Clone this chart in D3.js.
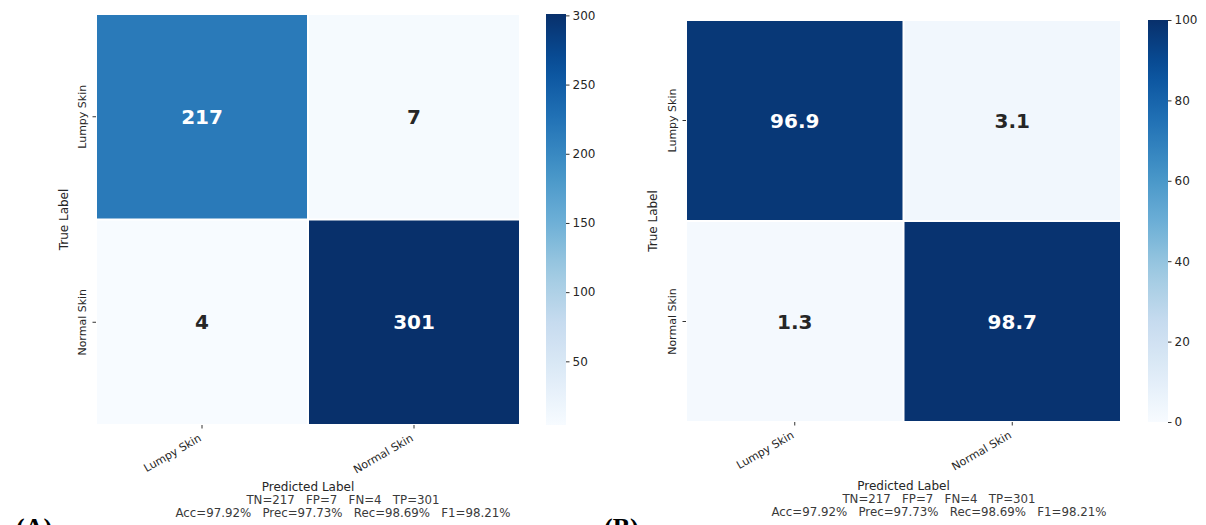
<!DOCTYPE html>
<html><head><meta charset="utf-8">
<script src="https://cdn.jsdelivr.net/npm/d3@7"></script>
<style>
body{margin:0;background:#fff;}
svg{display:block;font-family:"DejaVu Sans",sans-serif;}
</style></head>
<body><svg id="c" width="1206" height="525"></svg>
<script>
const categories = ["Lumpy Skin", "Normal Skin"];
const countsA = [[217, 7], [4, 301]];
const percentB = [[96.9, 3.1], [1.3, 98.7]];
const ticksA = [50, 100, 150, 200, 250, 300];
const ticksB = [0, 20, 40, 60, 80, 100];
const domainA = [4, 301];
const domainB = [0, 100];
const metricsLine1 = "TN=217   FP=7   FN=4   TP=301";
const metricsLine2 = "Acc=97.92%   Prec=97.73%   Rec=98.69%   F1=98.21%";
const panelLabels = ["(A)", "(B)"];

const bluesStops = ["#f7fbff","#deebf7","#c6dbef","#9ecae1","#6baed6","#4292c6","#2171b5","#08519c","#08306b"];
const blues = d3.scaleLinear().domain(d3.range(9).map(i => i / 8)).range(bluesStops).interpolate(d3.interpolateRgb).clamp(true);

const svg = d3.select("#c");
const defs = svg.append("defs");
const txt = "#262626";

function panel(cfg) {
  const g = svg.append("g");
  const x = d3.scaleBand().domain(categories).range([cfg.x0, cfg.x1]);
  const y = d3.scaleBand().domain(categories).range([cfg.y0, cfg.y1]);
  const norm = d3.scaleLinear().domain(cfg.domain).range([0, 1]);
  const cells = [];
  cfg.data.forEach((row, i) => row.forEach((v, j) => cells.push({r: categories[i], c: categories[j], v})));
  g.selectAll("rect.cell").data(cells).enter().append("rect")
    .attr("x", d => x(d.c) + 1).attr("y", d => y(d.r) + 1)
    .attr("width", x.bandwidth() - 2).attr("height", y.bandwidth() - 2)
    .attr("fill", d => blues(norm(d.v)));
  g.selectAll("text.val").data(cells).enter().append("text")
    .attr("x", d => x(d.c) + x.bandwidth() / 2).attr("y", d => y(d.r) + y.bandwidth() / 2)
    .attr("dy", "0.36em").attr("text-anchor", "middle")
    .attr("font-size", 20).attr("font-weight", "bold")
    .attr("fill", d => norm(d.v) > 0.5 ? "#ffffff" : txt)
    .text(d => cfg.fmt(d.v));

  // y axis
  const ya = g.append("g").attr("transform", `translate(${cfg.x0},0)`)
    .call(d3.axisLeft(y).tickSize(3.5).tickPadding(3));
  ya.select(".domain").remove();
  ya.selectAll("line").attr("stroke", "#333");
  ya.selectAll("text").attr("font-size", 11).attr("fill", txt).attr("font-family", "DejaVu Sans")
    .attr("text-anchor", "middle").attr("x", null).attr("y", 0).attr("dy", "0em")
    .attr("transform", "translate(-10,0) rotate(-90)");
  // x axis
  const xa = g.append("g").attr("transform", `translate(0,${cfg.y1})`)
    .call(d3.axisBottom(x).tickSize(3.5).tickPadding(3));
  xa.select(".domain").remove();
  xa.selectAll("line").attr("stroke", "#333");
  xa.selectAll("text").attr("font-size", 11).attr("fill", txt).attr("font-family", "DejaVu Sans")
    .attr("text-anchor", "end").attr("y", 0).attr("dy", "0.35em")
    .attr("transform", "translate(-2,12) rotate(-30)");

  // axis labels
  g.append("text").attr("transform", `translate(${cfg.ylabX},${(cfg.y0 + cfg.y1) / 2}) rotate(-90)`)
    .attr("text-anchor", "middle").attr("font-size", 12).attr("fill", txt).text("True Label");
  const cx = (cfg.x0 + cfg.x1) / 2;
  g.append("text").attr("x", cx).attr("y", cfg.labY).attr("text-anchor", "middle")
    .attr("font-size", 12).attr("fill", txt).text("Predicted Label");
  g.append("text").attr("x", cfg.mX).attr("y", cfg.labY + 13).attr("text-anchor", "middle")
    .attr("font-size", 11.8).attr("fill", "#3a3a3a").style("white-space", "pre").text(metricsLine1);
  g.append("text").attr("x", cfg.mX).attr("y", cfg.labY + 26).attr("text-anchor", "middle")
    .attr("font-size", 11.8).attr("fill", "#3a3a3a").style("white-space", "pre").text(metricsLine2);

  // colorbar
  const gid = "grad" + cfg.id;
  const grad = defs.append("linearGradient").attr("id", gid).attr("x1", 0).attr("x2", 0).attr("y1", 1).attr("y2", 0);
  d3.range(0, 1.0001, 0.05).forEach(t => grad.append("stop").attr("offset", t).attr("stop-color", blues(t)));
  g.append("rect").attr("x", cfg.cbX).attr("y", cfg.y0).attr("width", 20).attr("height", cfg.y1 - cfg.y0)
    .attr("fill", `url(#${gid})`);
  const cs = d3.scaleLinear().domain(cfg.domain).range([cfg.y1, cfg.y0]);
  const ca = g.append("g").attr("transform", `translate(${cfg.cbX + 20},0)`)
    .call(d3.axisRight(cs).tickValues(cfg.ticks).tickSize(3.5).tickPadding(3));
  ca.select(".domain").remove();
  ca.selectAll("line").attr("stroke", "#333");
  ca.selectAll("text").attr("font-size", 12).attr("fill", txt).attr("font-family", "DejaVu Sans");

  svg.append("text").attr("x", cfg.plX).attr("y", 536).attr("font-family", "Liberation Serif")
    .attr("font-weight", "bold").attr("font-size", 26).attr("fill", "#000").text(cfg.pl);
}

panel({id: "A", data: countsA, domain: domainA, ticks: ticksA, fmt: d => d3.format("d")(d),
  x0: 96, x1: 520, y0: 14, y1: 425, ylabX: 68, labY: 491, mX: 343, cbX: 546, plX: 16, pl: panelLabels[0]});
panel({id: "B", data: percentB, domain: domainB, ticks: ticksB, fmt: d => d3.format(".1f")(d),
  x0: 686, x1: 1121, y0: 20, y1: 422, ylabX: 657, labY: 490, mX: 939, cbX: 1148, plX: 604, pl: panelLabels[1]});
</script></body></html>
